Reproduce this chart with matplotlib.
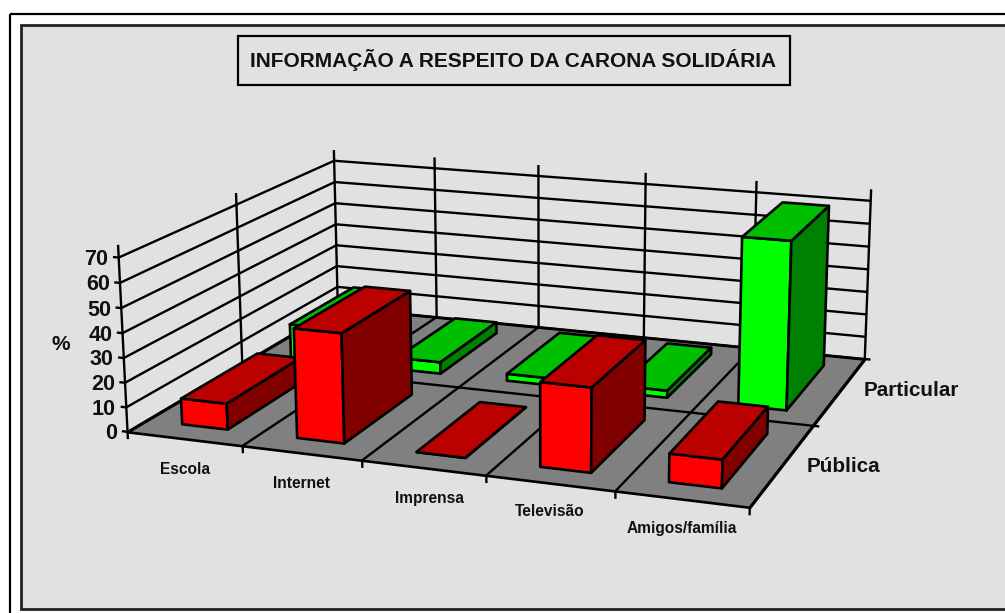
"""Bar chart 3D: informacao a respeito da carona solidaria."""
import matplotlib

matplotlib.use("Agg")
import matplotlib.pyplot as plt
import numpy as np
from matplotlib.patches import Rectangle
from matplotlib.transforms import Affine2D
from mpl_toolkits.mplot3d.art3d import Poly3DCollection

categories = ["Escola", "Internet", "Imprensa", "Televisão", "Amigos/família"]
series = ["Pública", "Particular"]
publica = [10.6, 44, 0, 33, 11]
particular = [15, 5, 3, 3, 70]
z_ticks = [0, 10, 20, 30, 40, 50, 60, 70]
z_top = 75

title = "INFORMAÇÃO A RESPEITO DA CARONA SOLIDÁRIA"
z_label = "%"

bg = "#e1e1e1"
floor_color = "#808080"
faces_publica = {"front": "#ff0000", "top": "#bb0000", "side": "#800000"}
faces_particular = {"front": "#00ff00", "top": "#00bf00", "side": "#008000"}

# where world points (category, row, %) land on the picture, in pixels
calibration = [
    ((0, 0, 0), (128, 432)),
    ((1, 0, 0), (242.7, 445)),
    ((2, 0, 0), (362, 460)),
    ((3, 0, 0), (487, 475.7)),
    ((4, 0, 0), (615, 490.7)),
    ((5, 0, 0), (750, 507.7)),
    ((5, 1, 0), (813, 425.7)),
    ((0, 2, 0), (337, 308)),
    ((5, 2, 0), (865, 359)),
    ((0, 0, 70), (118, 258)),
    ((0, 2, 70), (334.5, 162)),
    ((5, 2, 70), (870.7, 200.7)),
    ((0, 0, 75), (118, 245)),
    ((0, 1, 75), (236, 193)),
    ((0, 2, 75), (335, 150)),
    ((1, 2, 75), (434, 155)),
    ((2, 2, 75), (538, 165)),
    ((3, 2, 75), (646, 173)),
    ((4, 2, 75), (756.7, 182)),
    ((5, 2, 75), (870.7, 189)),
]

W, H = 1005, 613
plt.rcParams["font.family"] = ["Liberation Sans", "DejaVu Sans"]
plt.rcParams["font.weight"] = "bold"


def fit_camera(points):
    a, b = [], []
    for (x, y, z), (u, v) in points:
        a.append([x, y, z, 1, 0, 0, 0, 0, -u * x, -u * y, -u * z])
        a.append([0, 0, 0, 0, x, y, z, 1, -v * x, -v * y, -v * z])
        b.extend([u, v])
    p = np.linalg.lstsq(np.array(a, float), np.array(b, float), rcond=None)[0]
    return np.append(p, 1).reshape(3, 4)


def pixel_projection(ax, cam):
    # express the camera in the 2D coordinates of the 3D axes
    inv = ax.transData.inverted()
    d0 = inv.transform((0, 0))
    d1 = inv.transform((W, H))
    sx = (d1[0] - d0[0]) / W
    sy = (d1[1] - d0[1]) / H
    row_u = sx * cam[0] + d0[0] * cam[2]
    row_v = sy * (H * cam[2] - cam[1]) + d0[1] * cam[2]
    # depth row stays negative, mplot3d drops line points with depth above 0
    return np.array([row_u, row_v, [0, -0.1, 0, -0.5], cam[2]])


def to_pixels(cam, x, y, z):
    u, v, w = cam @ np.array([x, y, z, 1.0])
    return u / w, v / w


def draw_row(ax, values, row, faces, zorder):
    for i, value in enumerate(values):
        none = (0, 0, 0, 0)
        colors = [none, faces["top"], faces["front"], none, none, faces["side"]]
        edges = [none, "k", "k", none, none, "k"]
        ax.bar3d(
            i + bar_gap, row + row_gap, 0,
            bar_width, 1 - 2 * row_gap, value,
            color=colors, edgecolor=edges, linewidth=1.9, shade=False,
            zorder=zorder + i,
        )


bar_gap = 0.31
bar_width = 0.4
row_gap = 0.16

fig = plt.figure(figsize=(W / 100, H / 100), dpi=100, facecolor="white")
px = Affine2D().scale(1, -1).translate(0, H)

# outer frame, grey panel, title box
fig.add_artist(Rectangle((9.5, 13.5), W + 20, H + 20, transform=px, fill=False, ec="k", lw=1.6, zorder=-3))
fig.add_artist(Rectangle((21, 24.5), W + 20, 584.5, transform=px, fc=bg, ec="#222222", lw=2, zorder=-2))
fig.add_artist(Rectangle((238, 36), 552, 49, transform=px, fc=bg, ec="k", lw=1.6, zorder=-1))
fig.text(513.5, 60, title, transform=px, ha="center", va="center", fontsize=15, color="#111111")

ax = fig.add_axes([0, (1 - W / H) / 2, 1, W / H], projection="3d", computed_zorder=False)
ax.set_axis_off()
ax.patch.set_visible(False)
camera = fit_camera(calibration)
ax.get_proj = lambda: pixel_projection(ax, camera)

n = len(categories)
rows = len(series)
grid = dict(color="k", lw=1.7, solid_capstyle="butt", zorder=2)

floor = [[(0, 0, 0), (n, 0, 0), (n, rows, 0), (0, rows, 0)]]
ax.add_collection3d(Poly3DCollection(floor, facecolors=floor_color, edgecolors="k", linewidths=1.9, zorder=1))

for tick in z_ticks:
    ax.plot([-0.05, 0, 0], [0, 0, rows], [tick, tick, tick], **grid)
    ax.plot([0, n], [rows, rows], [tick, tick], **grid)
    tx, ty = to_pixels(camera, -0.09, 0, tick)
    fig.text(tx, ty + 3, str(tick), transform=px, ha="right", va="center", fontsize=15.5, color="#111111")
for i in range(rows + 1):
    ax.plot([0, 0], [i, i], [-3 if i == 0 else 0, z_top], **grid)
for i in range(1, n + 1):
    ax.plot([i, i], [rows, rows], [0, z_top], **grid)
for i in range(1, n + 1):
    ax.plot([i, i], [0, rows], [0, 0], **grid)
    ax.plot([i, i], [0, 0], [-3, 0], **grid)
ax.plot([0, n + 0.05], [1, 1], [0, 0], **grid)
ax.plot([n, n + 0.05], [rows, rows], [0, 0], **grid)

draw_row(ax, particular, 1, faces_particular, 5)
draw_row(ax, publica, 0, faces_publica, 15)

# axis texts
label_xy = [(185, 469), (301, 483), (429, 498), (550, 512), (682, 529)]
for name, (x, y) in zip(categories, label_xy):
    fig.text(x, y, name, transform=px, ha="center", va="center", fontsize=11.2, color="#111111")
fig.text(843, 466, series[0], transform=px, ha="center", va="center", fontsize=14.9, color="#111111")
fig.text(911, 391, series[1], transform=px, ha="center", va="center", fontsize=14.9, color="#111111")
fig.text(61, 344, z_label, transform=px, ha="center", va="center", fontsize=15, color="#111111")

fig.savefig("out.png", dpi=100, facecolor="white")
